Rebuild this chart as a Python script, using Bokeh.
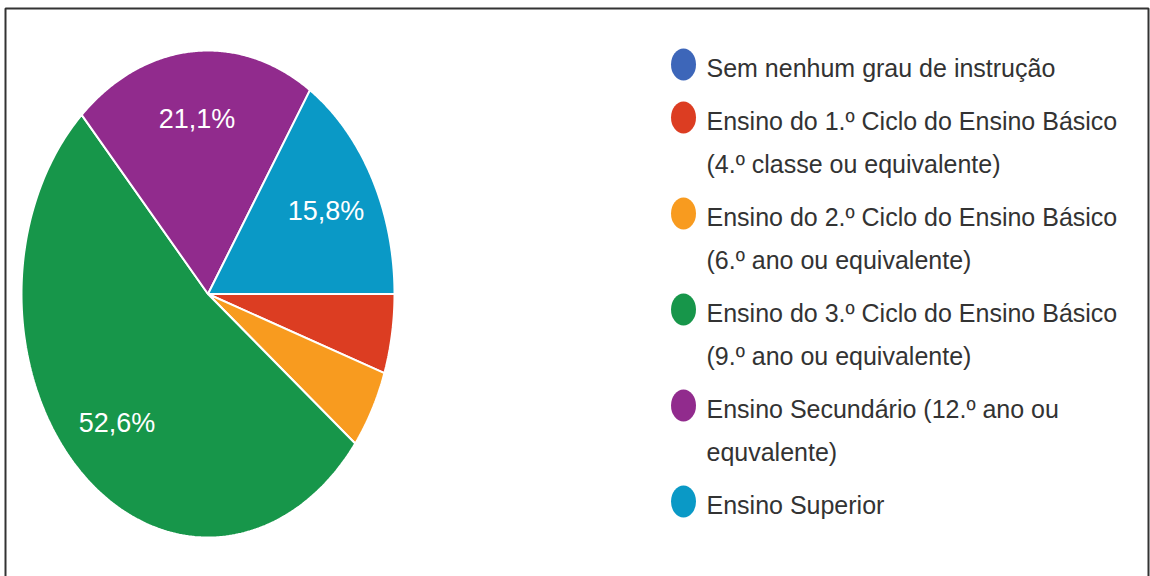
import numpy as np
from bokeh.plotting import figure
from bokeh.models import Range1d, ColumnDataSource
from bokeh.embed import file_html
from bokeh.resources import INLINE
from bokeh.core.properties import value

# ---- data ----
categories = [
    "Sem nenhum grau de instrução",
    "Ensino do 1.º Ciclo do Ensino Básico\n(4.º classe ou equivalente)",
    "Ensino do 2.º Ciclo do Ensino Básico\n(6.º ano ou equivalente)",
    "Ensino do 3.º Ciclo do Ensino Básico\n(9.º ano ou equivalente)",
    "Ensino Secundário (12.º ano ou\nequvalente)",
    "Ensino Superior",
]
counts = [0, 1, 1, 10, 4, 3]
colors = ["#3d66b9", "#dc3d22", "#f89b1f", "#17964a", "#912b8d", "#0a99c6"]

# ---- layout constants ----
W, H = 1150, 576
CX, CY, RX, RY = 207.5, 293.5, 186.5, 243.5
FONT = value("Liberation Sans")

p = figure(width=W, height=H, x_range=Range1d(0, W), y_range=Range1d(H, 0),
           x_axis_type=None, y_axis_type=None, min_border=0,
           toolbar_location=None, output_backend="svg")
p.grid.visible = False
p.outline_line_color = None
p.background_fill_color = "white"

# frame
p.quad(left=5, right=1148, top=8, bottom=H + 20, fill_color=None,
       line_color="#333333", line_width=2)

total = float(sum(counts))
fracs = [c / total for c in counts]
starts = np.cumsum([0.0] + fracs[:-1]) * 2 * np.pi
ends = starts + np.array(fracs) * 2 * np.pi

xs, ys, fills = [], [], []
lx, ly, lt = [], [], []
for f, a0, a1, col in zip(fracs, starts, ends, colors):
    if f <= 0:
        continue
    th = np.linspace(a0, a1, 200)
    xs.append([CX] + list(CX + RX * np.cos(th)))
    ys.append([CY] + list(CY + RY * np.sin(th)))
    fills.append(col)
    if f > 0.1:
        m = (a0 + a1) / 2
        lx.append(CX + 0.72 * RX * np.cos(m))
        ly.append(CY + 0.72 * RY * np.sin(m))
        lt.append(f"{f * 100:.1f}%".replace(".", ","))

p.patches(xs=xs, ys=ys, fill_color=fills, line_color="white", line_width=2)
p.text(x=lx, y=ly, text=lt, text_color="white", text_font=FONT,
       text_font_size="27px", text_align="center", text_baseline="middle")

# legend
tx, ty, tt = [], [], []
ex, ey = [], []
base = 75
for cat, col in zip(categories, colors):
    lines = cat.split("\n")
    ex.append(683)
    ey.append(base - 11)
    for i, ln in enumerate(lines):
        tx.append(706)
        ty.append(base - 8 + i * 43)
        tt.append(ln)
    base += (len(lines) - 1) * 43 + 53

p.ellipse(x=ex, y=ey, width=25, height=32, fill_color=colors, line_color=None)
p.text(x=tx, y=ty, text=tt, text_color="#333333", text_font=FONT,
       text_font_size="25px", text_align="left", text_baseline="alphabetic")

open("out.html", "w").write(file_html(p, INLINE))
